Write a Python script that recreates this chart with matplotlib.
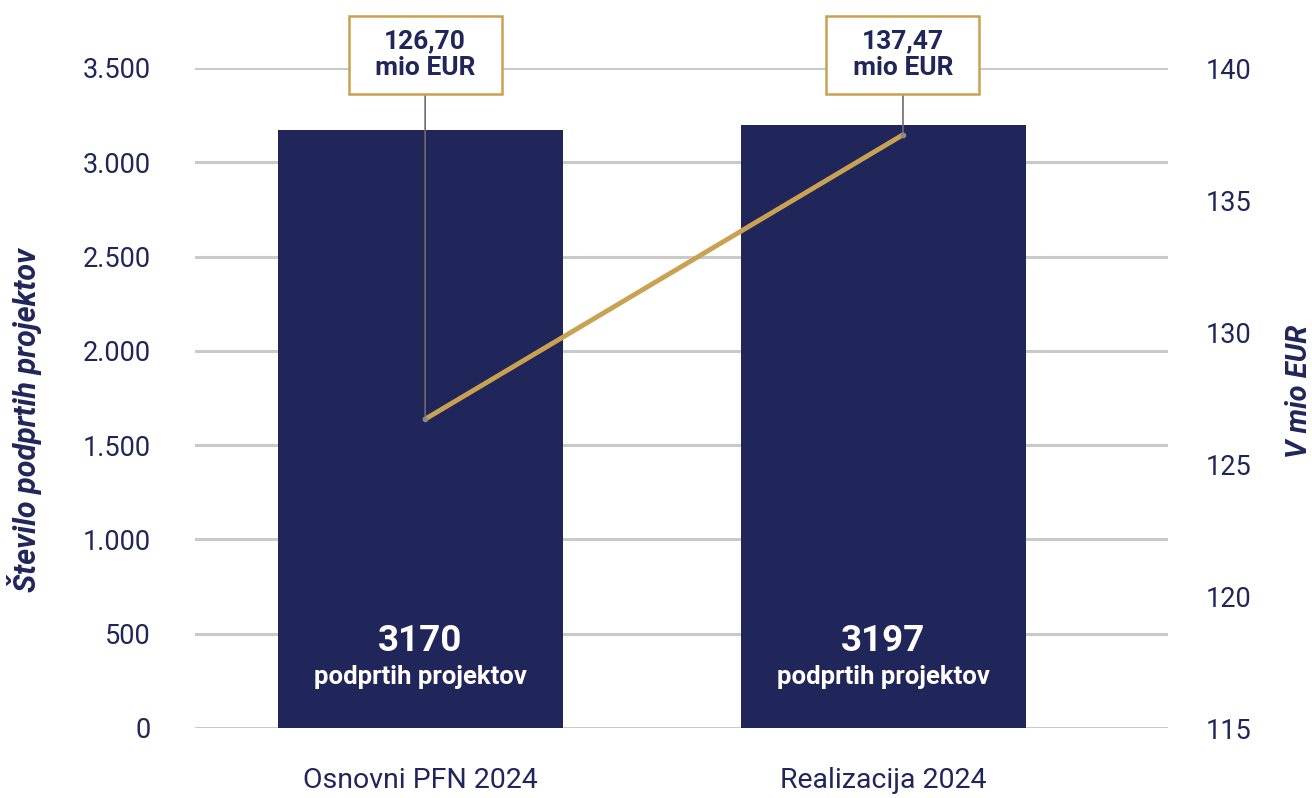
import matplotlib.pyplot as plt
import numpy as np

plt.rcParams['font.family'] = ['Roboto', 'DejaVu Sans']

categories = ['Osnovni PFN 2024', 'Realizacija 2024']
projects = [3170, 3197]
eur_mio = [126.70, 137.47]
eur_labels = ['126,70\n  mio EUR  ', '137,47\n  mio EUR  ']
left_ticks = [0, 500, 1000, 1500, 2000, 2500, 3000, 3500]
left_tick_labels = ['0', '500', '1.000', '1.500', '2.000', '2.500', '3.000', '3.500']
right_ticks = [115, 120, 125, 130, 135, 140]

navy = '#21265a'
gold = '#c9a152'
grid = '#c9cacc'

fig = plt.figure(figsize=(13.12, 7.98), dpi=100)
ax = fig.add_axes([195 / 1312, 70 / 798, 973 / 1312, 660 / 798])
ax2 = ax.twinx()

x = np.arange(len(categories))
ax.bar(x, projects, width=0.616, color=navy, zorder=2)
ax.set_xlim(-0.4876, 1.616)
ax.set_ylim(0, 3500)
ax.set_yticks(left_ticks)
ax.set_yticklabels(left_tick_labels)
ax.grid(axis='y', color=grid, linewidth=2.2, zorder=0)
ax.set_axisbelow(True)
ax.set_xticks(x)
ax.set_xticklabels(categories)
ax.tick_params(axis='x', length=0, pad=28, labelsize=20.5, labelcolor=navy)
ax.tick_params(axis='y', length=0, pad=32, labelsize=19.5, labelcolor=navy)
for s in ax.spines.values():
    s.set_visible(False)
for s in ax2.spines.values():
    s.set_visible(False)

# labels inside the bars
for xi, v in zip(x, projects):
    ax.text(xi, 461, str(v), ha='center', va='center', color='white',
            fontsize=26.5, fontweight='bold', zorder=3)
    ax.text(xi, 272, 'podprtih projektov', ha='center', va='center',
            color='white', fontsize=18.5, fontweight='bold', zorder=3)

line_x = x + np.array([0.01, 0.043])
ax2.set_ylim(115, 140)
ax2.set_yticks(right_ticks)
ax2.tick_params(axis='y', length=0, pad=27, labelsize=19.5, labelcolor=navy)
ax2.plot(line_x, eur_mio, color=gold, linewidth=3.5, zorder=3,
         solid_capstyle='round')
ax2.plot(line_x, eur_mio, 'o', color='#8a8a8a', markersize=3, zorder=4)

for xi, v, lab in zip(line_x, eur_mio, eur_labels):
    ax2.annotate(lab, xy=(xi, v), xycoords='data',
                 xytext=(xi, 1.0197), textcoords=('data', 'axes fraction'),
                 ha='center', va='center', fontsize=19, fontweight='bold',
                 color=navy, linespacing=1.15,
                 bbox=dict(boxstyle='square,pad=0.5', fc='white', ec=gold, lw=1.8),
                 arrowprops=dict(arrowstyle='-', color='#6f6a6a', lw=1.2,
                                 shrinkA=0, shrinkB=0))

fig.text(25 / 1312, 1 - 420 / 798, 'Število podprtih projektov', rotation=90,
         ha='center', va='center', fontsize=22, fontweight='bold',
         fontstyle='italic', color=navy)
fig.text(1299 / 1312, 1 - 391 / 798, 'V mio EUR', rotation=90,
         ha='center', va='center', fontsize=21, fontweight='bold',
         fontstyle='italic', color=navy)

fig.savefig('out.png', dpi=100)
